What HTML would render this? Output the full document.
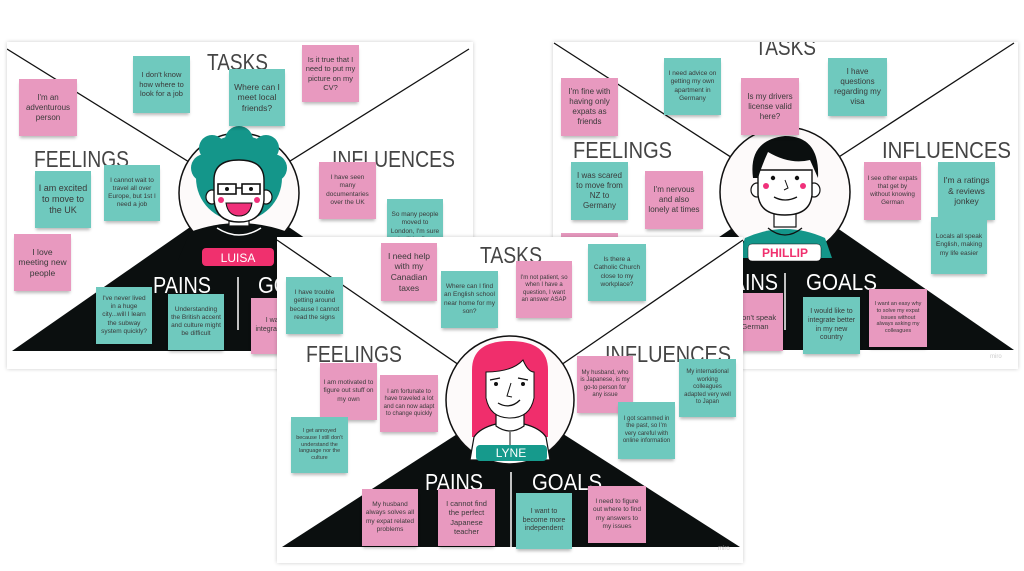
<!DOCTYPE html>
<html><head><meta charset="utf-8">
<style>
html,body{margin:0;padding:0;background:#fff;}
#w{position:relative;width:1024px;height:571px;overflow:hidden;background:#fff;font-family:"Liberation Sans",sans-serif;}
.b{position:absolute;left:0;top:0;width:1024px;height:571px;}
.bg{position:absolute;background:#fff;box-shadow:0 0 4px rgba(0,0,0,.2);}
svg{position:absolute;left:0;top:0;}
.n{position:absolute;display:flex;align-items:center;justify-content:center;text-align:center;color:#3a3a3a;box-sizing:border-box;padding:2px 3px;line-height:1.25;box-shadow:0 3px 3px -1px rgba(0,0,0,.28);}
.p{background:#e899bf;}
.t{background:#6fc9be;}
</style></head><body><div id="w">

<!-- Board 1 -->
<div class="b" style="clip-path:inset(38px 547px 198px 3px);">
<div class="bg" style="left:7px;top:42px;width:466px;height:327px;"></div>
<svg width="1024" height="571" style="clip-path:inset(42px 551px 202px 7px);">
<line x1="7" y1="49" x2="239" y2="193" stroke="#111" stroke-width="1.3"/>
<line x1="469" y1="49" x2="239" y2="193" stroke="#111" stroke-width="1.3"/>
<polygon points="239,193 12,351 470,351" fill="#0b0f0f"/>
<circle cx="239" cy="193" r="60" fill="#fdfafa" stroke="#111" stroke-width="1.5"/>
<path d="M190,232 Q239,214 288,232 L300,260 L178,260 Z" fill="#0b0f0f"/>
<path d="M217,228 Q239,242 261,228" fill="none" stroke="#fff" stroke-width="1.5"/>
<circle cx="239" cy="178" r="43" fill="#14968a"/>
<circle cx="205" cy="168" r="14" fill="#14968a"/><circle cx="273" cy="168" r="14" fill="#14968a"/>
<circle cx="239" cy="140" r="14" fill="#14968a"/><circle cx="212" cy="148" r="13" fill="#14968a"/><circle cx="266" cy="148" r="13" fill="#14968a"/>
<rect x="229" y="210" width="20" height="16" fill="#fff" stroke="#111" stroke-width="1.2"/>
<ellipse cx="212" cy="197" rx="6" ry="7" fill="#fff" stroke="#111" stroke-width="1.2"/>
<ellipse cx="266" cy="197" rx="6" ry="7" fill="#fff" stroke="#111" stroke-width="1.2"/>
<path d="M214,180 Q214,160 239,160 Q264,160 264,180 L264,200 Q262,222 239,222 Q216,222 214,200 Z" fill="#fff" stroke="#111" stroke-width="1.4"/>
<rect x="218" y="184" width="18" height="10" fill="none" stroke="#111" stroke-width="1.6"/>
<rect x="242" y="184" width="18" height="10" fill="none" stroke="#111" stroke-width="1.6"/>
<line x1="236" y1="188" x2="242" y2="188" stroke="#111" stroke-width="1.5"/>
<circle cx="227" cy="189" r="2" fill="#111"/><circle cx="251" cy="189" r="2" fill="#111"/>
<circle cx="221" cy="200" r="3" fill="#f0307a"/><circle cx="257" cy="200" r="3" fill="#f0307a"/>
<path d="M226,203 L252,203 Q250,216 239,216 Q228,216 226,203 Z" fill="#f0307a" stroke="#111" stroke-width="1"/>
<rect x="202" y="248" width="72" height="18" rx="4" fill="#f0306e"/>
<text x="238" y="262" font-size="12" fill="#fff" text-anchor="middle" font-family="Liberation Sans">LUISA</text>
<text x="207" y="70" font-size="23" fill="#444" textLength="61" lengthAdjust="spacingAndGlyphs">TASKS</text>
<text x="34" y="167" font-size="23" fill="#444" textLength="95" lengthAdjust="spacingAndGlyphs">FEELINGS</text>
<text x="332" y="167" font-size="23" fill="#444" textLength="123" lengthAdjust="spacingAndGlyphs">INFLUENCES</text>
<text x="153" y="293" font-size="23" fill="#fff" textLength="58" lengthAdjust="spacingAndGlyphs">PAINS</text>
<text x="258" y="293" font-size="23" fill="#fff" textLength="70" lengthAdjust="spacingAndGlyphs">GOALS</text>
<line x1="238" y1="277" x2="238" y2="330" stroke="#fff" stroke-width="1.5"/>
</svg>
<div class="n p" style="left:19px;top:79px;width:58px;height:57px;font-size:8px">I'm an adventurous person</div>
<div class="n t" style="left:133px;top:56px;width:57px;height:57px;font-size:7.5px">I don't know how where to look for a job</div>
<div class="n t" style="left:229px;top:69px;width:56px;height:57px;font-size:8.5px">Where can I meet local friends?</div>
<div class="n p" style="left:302px;top:45px;width:57px;height:57px;font-size:7.5px">Is it true that I need to put my picture on my CV?</div>
<div class="n t" style="left:35px;top:171px;width:56px;height:57px;font-size:9px">I am excited to move to the UK</div>
<div class="n t" style="left:104px;top:165px;width:56px;height:56px;font-size:6.5px">I cannot wait to travel all over Europe, but 1st I need a job</div>
<div class="n p" style="left:14px;top:234px;width:57px;height:57px;font-size:8.5px">I love meeting new people</div>
<div class="n p" style="left:319px;top:162px;width:57px;height:57px;font-size:6.5px">I have seen many documentaries over the UK</div>
<div class="n t" style="left:387px;top:199px;width:56px;height:57px;font-size:6.5px">So many people moved to London, I'm sure I will be fine</div>
<div class="n t" style="left:96px;top:287px;width:56px;height:57px;font-size:6.5px">I've never lived in a huge city...will I learn the subway system quickly?</div>
<div class="n t" style="left:168px;top:294px;width:56px;height:56px;font-size:6.5px">Understanding the British accent and culture might be difficult</div>
<div class="n p" style="left:251px;top:298px;width:56px;height:56px;font-size:7px">I want to integrate better</div>
</div>

<!-- Board 2 -->
<div class="b" style="clip-path:inset(38px 2px 198px 549px);">
<div class="bg" style="left:553px;top:42px;width:465px;height:327px;"></div>
<svg width="1024" height="571" style="clip-path:inset(42px 6px 202px 553px);">
<line x1="554" y1="43" x2="785" y2="192" stroke="#111" stroke-width="1.3"/>
<line x1="1014" y1="43" x2="785" y2="192" stroke="#111" stroke-width="1.3"/>
<polygon points="785,192 554,350 1014,350" fill="#0b0f0f"/>
<circle cx="785" cy="192" r="65" fill="#fdfafa" stroke="#111" stroke-width="1.5"/>
<path d="M745,238 Q785,220 825,238 L832,258 L738,258 Z" fill="#14968a"/>
<path d="M768,228 Q785,242 802,228" fill="none" stroke="#111" stroke-width="1.3"/>
<rect x="774" y="205" width="22" height="22" fill="#fff" stroke="#111" stroke-width="1.2"/>
<ellipse cx="757" cy="190" rx="6" ry="7" fill="#fff" stroke="#111" stroke-width="1.2"/>
<ellipse cx="814" cy="190" rx="6" ry="7" fill="#fff" stroke="#111" stroke-width="1.2"/>
<path d="M758,170 L758,195 Q760,215 785,215 Q810,215 812,195 L812,170 Z" fill="#fff" stroke="#111" stroke-width="1.4"/>
<path d="M753,178 Q748,140 785,136 Q820,136 818,178 L810,160 Q790,165 768,152 Q762,165 758,178 Z" fill="#0b0f0f"/>
<circle cx="773" cy="178" r="2.2" fill="#111"/><circle cx="797" cy="178" r="2.2" fill="#111"/>
<circle cx="766" cy="186" r="3" fill="#f0307a"/><circle cx="803" cy="186" r="3" fill="#f0307a"/>
<path d="M785,180 L788,188 L784,190" fill="none" stroke="#111" stroke-width="1"/>
<path d="M774,197 Q785,203 797,197" fill="none" stroke="#111" stroke-width="1.3"/>
<rect x="748" y="244" width="73" height="17" rx="4" fill="#fff" stroke="#111" stroke-width=".5"/>
<text x="785" y="257" font-size="12" fill="#f0306e" font-weight="bold" text-anchor="middle" font-family="Liberation Sans">PHILLIP</text>
<text x="755" y="55" font-size="23" fill="#444" textLength="61" lengthAdjust="spacingAndGlyphs">TASKS</text>
<text x="573" y="158" font-size="23" fill="#444" textLength="99" lengthAdjust="spacingAndGlyphs">FEELINGS</text>
<text x="882" y="158" font-size="23" fill="#444" textLength="129" lengthAdjust="spacingAndGlyphs">INFLUENCES</text>
<text x="720" y="290" font-size="23" fill="#fff" textLength="58" lengthAdjust="spacingAndGlyphs">PAINS</text>
<text x="806" y="290" font-size="23" fill="#fff" textLength="71" lengthAdjust="spacingAndGlyphs">GOALS</text>
<line x1="785" y1="273" x2="785" y2="330" stroke="#fff" stroke-width="1.5"/>
</svg>
<div class="n p" style="left:561px;top:78px;width:57px;height:58px;font-size:8px">I'm fine with having only expats as friends</div>
<div class="n t" style="left:664px;top:58px;width:57px;height:57px;font-size:6.5px">I need advice on getting my own apartment in Germany</div>
<div class="n p" style="left:741px;top:78px;width:58px;height:57px;font-size:8px">Is my drivers license valid here?</div>
<div class="n t" style="left:828px;top:58px;width:59px;height:58px;font-size:8px">I have questions regarding my visa</div>
<div class="n t" style="left:571px;top:162px;width:57px;height:58px;font-size:8px">I was scared to move from NZ to Germany</div>
<div class="n p" style="left:645px;top:171px;width:58px;height:58px;font-size:8px">I'm nervous and also lonely at times</div>
<div class="n p" style="left:561px;top:233px;width:57px;height:57px;font-size:7px">I miss home</div>
<div class="n p" style="left:864px;top:162px;width:57px;height:58px;font-size:6.3px">I see other expats that get by without knowing German</div>
<div class="n t" style="left:938px;top:162px;width:57px;height:58px;font-size:8.5px">I'm a ratings &amp; reviews jonkey</div>
<div class="n t" style="left:931px;top:217px;width:56px;height:57px;font-size:6.5px">Locals all speak English, making my life easier</div>
<div class="n p" style="left:727px;top:293px;width:56px;height:58px;font-size:7.5px;justify-content:flex-end">I don't speak German</div>
<div class="n t" style="left:803px;top:297px;width:57px;height:57px;font-size:7px">I would like to integrate better in my new country</div>
<div class="n p" style="left:869px;top:289px;width:58px;height:58px;font-size:5.5px">I want an easy why to solve my expat issues without always asking my colleagues</div>
<div style="position:absolute;left:990px;top:354px;font-size:6px;color:#ccc">miro</div>
</div>

<!-- Board 3 -->
<div class="b" style="clip-path:inset(233px 277px 4px 273px);">
<div class="bg" style="left:277px;top:237px;width:466px;height:326px;"></div>
<svg width="1024" height="571" style="clip-path:inset(237px 281px 8px 277px);">
<line x1="277" y1="240" x2="510" y2="400" stroke="#111" stroke-width="1.3"/>
<line x1="743" y1="240" x2="510" y2="400" stroke="#111" stroke-width="1.3"/>
<polygon points="510,400 282,547 740,547" fill="#0b0f0f"/>
<circle cx="510" cy="400" r="64" fill="#fdfafa" stroke="#111" stroke-width="1.5"/>
<path d="M472,437 L472,370 Q472,341 510,341 Q548,341 548,370 L548,437 Z" fill="#f02e6c"/>
<path d="M474,437 Q480,428 496,424 L524,424 Q540,428 546,437 L550,460 L470,460 Z" fill="#fff" stroke="#111" stroke-width="1.2"/>
<path d="M496,410 L496,426 Q510,436 524,426 L524,410 Z" fill="#fff" stroke="#111" stroke-width="1.2"/>
<line x1="510" y1="432" x2="510" y2="446" stroke="#111" stroke-width="1"/>
<path d="M486,372 L486,398 Q490,418 510,418 Q530,418 534,398 L534,372 Q528,372 523,360 Q512,372 486,372 Z" fill="#fff" stroke="#111" stroke-width="1"/>
<path d="M490,380 L500,378" stroke="#111" stroke-width="1.2"/><path d="M518,378 L528,380" stroke="#111" stroke-width="1.2"/>
<circle cx="496" cy="384" r="2" fill="#111"/><circle cx="523" cy="384" r="2" fill="#111"/>
<path d="M511,383 L507,396 L512,397" fill="none" stroke="#111" stroke-width="1"/>
<path d="M498,403 Q510,410 520,400" fill="none" stroke="#111" stroke-width="1.3"/>
<rect x="476" y="445" width="71" height="16" rx="4" fill="#169a8c"/>
<text x="511" y="457" font-size="12" fill="#fff" text-anchor="middle" font-family="Liberation Sans">LYNE</text>
<text x="480" y="263" font-size="23" fill="#444" textLength="62" lengthAdjust="spacingAndGlyphs">TASKS</text>
<text x="306" y="362" font-size="23" fill="#444" textLength="96" lengthAdjust="spacingAndGlyphs">FEELINGS</text>
<text x="605" y="362" font-size="23" fill="#444" textLength="126" lengthAdjust="spacingAndGlyphs">INFLUENCES</text>
<text x="425" y="490" font-size="23" fill="#fff" textLength="58" lengthAdjust="spacingAndGlyphs">PAINS</text>
<text x="532" y="490" font-size="23" fill="#fff" textLength="70" lengthAdjust="spacingAndGlyphs">GOALS</text>
<line x1="511" y1="472" x2="511" y2="547" stroke="#fff" stroke-width="1.5"/>
</svg>
<div class="n t" style="left:286px;top:277px;width:57px;height:57px;font-size:6.5px">I have trouble getting around because I cannot read the signs</div>
<div class="n p" style="left:381px;top:243px;width:56px;height:58px;font-size:8.5px">I need help with my Canadian taxes</div>
<div class="n t" style="left:441px;top:271px;width:57px;height:57px;font-size:6.5px">Where can I find an English school near home for my son?</div>
<div class="n p" style="left:516px;top:261px;width:56px;height:57px;font-size:6px">I'm not patient, so when I have a question, I want an answer ASAP</div>
<div class="n t" style="left:588px;top:244px;width:58px;height:57px;font-size:6.5px">Is there a Catholic Church close to my workplace?</div>
<div class="n p" style="left:320px;top:363px;width:57px;height:57px;font-size:6.5px">I am motivated to figure out stuff on my own</div>
<div class="n p" style="left:380px;top:375px;width:58px;height:57px;font-size:6px">I am fortunate to have traveled a lot and can now adapt to change quickly</div>
<div class="n t" style="left:291px;top:417px;width:57px;height:56px;font-size:5.5px">I get annoyed because I still don't understand the language nor the culture</div>
<div class="n p" style="left:577px;top:356px;width:56px;height:57px;font-size:6px">My husband, who is Japanese, is my go-to person for any issue</div>
<div class="n t" style="left:679px;top:359px;width:57px;height:58px;font-size:6px">My international working colleagues adapted very well to Japan</div>
<div class="n t" style="left:618px;top:402px;width:57px;height:57px;font-size:6px">I got scammed in the past, so I'm very careful with online information</div>
<div class="n p" style="left:362px;top:489px;width:56px;height:57px;font-size:6.5px">My husband always solves all my expat related problems</div>
<div class="n p" style="left:438px;top:489px;width:57px;height:57px;font-size:7.5px">I cannot find the perfect Japanese teacher</div>
<div class="n t" style="left:516px;top:493px;width:56px;height:56px;font-size:7px">I want to become more independent</div>
<div class="n p" style="left:588px;top:486px;width:58px;height:57px;font-size:6.5px">I need to figure out where to find my answers to my issues</div>
<div style="position:absolute;left:718px;top:546px;font-size:6px;color:#ccc">miro</div>
</div>

</div></body></html>
